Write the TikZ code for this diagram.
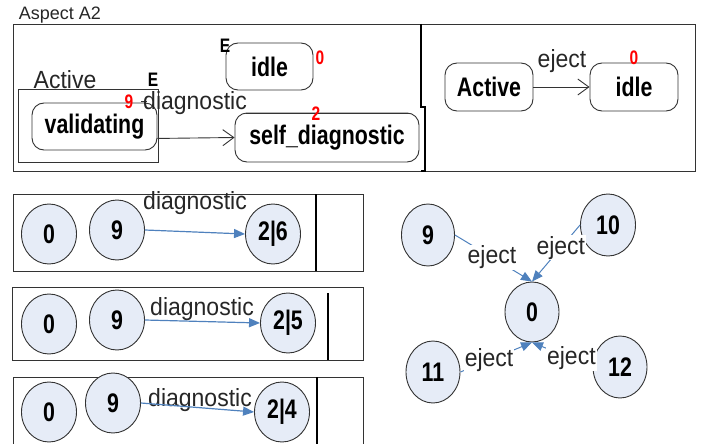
\documentclass[tikz,border=0pt]{standalone}
\usepackage{fontspec}
\usepackage{graphicx}
\setmainfont{Liberation Sans}
\usetikzlibrary{arrows.meta,shapes.geometric}
\definecolor{cfill}{HTML}{E6ECF7}
\definecolor{cblue}{HTML}{4F81BD}
\definecolor{cline}{HTML}{333333}
\newcommand{\vbold}[1]{\scalebox{0.97}[1.22]{#1}}
\newcommand{\vreg}[1]{\scalebox{1}[1.08]{#1}}
\begin{document}
\begin{tikzpicture}[x=1pt,y=-1pt,
  statebox/.style={draw=cline, line width=0.9pt, rounded corners=12pt, inner sep=0pt, font=\fontsize{22}{24}\selectfont\bfseries},
  circ/.style={ellipse, draw=cline, line width=0.9pt, fill=cfill, minimum width=55pt, minimum height=60pt, inner sep=0pt, font=\fontsize{22}{24}\selectfont\bfseries},
  lbl/.style={font=\fontsize{23}{25}\selectfont, inner sep=1pt, text=black!85},
  rednum/.style={font=\fontsize{16}{18}\selectfont\bfseries, text=red, inner sep=0pt},
  emark/.style={font=\fontsize{16}{18}\selectfont\bfseries, inner sep=0pt},
  frame/.style={draw=cline, line width=0.9pt},
  trans/.style={draw=cline, line width=0.9pt, -{Straight Barb[length=11pt,width=16pt]}},
  barrow/.style={draw=cblue, line width=1.2pt, -{Triangle[length=11pt,width=9pt]}},
  elbl/.style={font=\fontsize{23}{25}\selectfont, inner sep=1pt, fill=white, text=black!85}
]
\useasboundingbox (0,0) rectangle (702,444);

% ---------- top frame ----------
\node[font=\fontsize{18}{20}\selectfont, text=black!85, inner sep=0pt] (title) at (60,15) {Aspect A2};
\draw[frame] (13,24) rectangle (695,171);
\draw[draw=black, line width=1.6pt] (421,24) -- (421,107) -- (425,107) -- (425,171) -- (421,171);

% left panel
\draw[frame] (18,89) rectangle (158,162);
\node[lbl, inner sep=0pt] (activelbl) at (65,80) {\vreg{Active}};
\node[emark] (e2) at (153,80) {\vbold{E}};

\node[statebox, minimum width=87pt, minimum height=47pt] (idleA) at (269.5,66.5) {\vbold{idle}};
\node[emark] (e1) at (225,46) {\vbold{E}};
\node[rednum] (r0a) at (320,58) {\vbold{0}};

\node[statebox, fill=white, minimum width=125pt, minimum height=47pt] (val) at (94.5,126.5) {\vbold{validating}};
\node[statebox, minimum width=184pt, minimum height=49pt] (self) at (327,137.5) {\vbold{self\_diagnostic}};
\draw[frame] (141,101) -- (147,101);
\draw[frame] (246,113) -- (410,113);
\node[lbl] (diagA) at (195,103) {\vreg{diagnostic}};
\node[rednum] (r9) at (129,102) {\vbold{9}};
\node[rednum] (r2) at (316,114) {\vbold{2}};
\draw[trans] ([yshift=12pt]val.south east) -- (self.west);

% right panel
\node[statebox, minimum width=88pt, minimum height=48pt] (actB) at (489,87) {\vbold{Active}};
\node[statebox, minimum width=88pt, minimum height=48pt] (idleB) at (634,87) {\vbold{idle}};
\node[rednum] (r0b) at (634,58) {\vbold{0}};
\draw[trans] (actB) -- (idleB);
\node[lbl] (ejectB) at (562,61) {\vreg{eject}};

% ---------- bottom left boxes ----------
\draw[frame] (13,194) rectangle (363,271);
\draw[draw=black, line width=1.2pt] (316,194) -- (316,271);
\node[circ] (a0) at (49,234) {\vbold{0}};
\node[circ] (a9) at (117,230) {\vbold{9}};
\node[circ] (a2) at (273,234) {\vbold{2|6}};
\node[lbl] (adiag) at (195,203) {\vreg{diagnostic}};
\draw[barrow] (a9.east) -- (a2.west);

\draw[frame] (12,287) rectangle (363,360);
\draw[draw=black, line width=1.2pt] (328,293) -- (328,360);
\node[circ] (b0) at (49,324) {\vbold{0}};
\node[circ] (b9) at (117,320) {\vbold{9}};
\node[circ] (b2) at (288,323) {\vbold{2|5}};
\node[lbl] (bdiag) at (202,309) {\vreg{diagnostic}};
\draw[barrow] (b9.east) -- (b2.west);

\draw[frame] (13,446) -- (13,377) -- (363,377) -- (363,446);
\draw[draw=black, line width=1.2pt] (317,377) -- (317,446);
\node[circ] (c0) at (49,412) {\vbold{0}};
\node[circ] (c9) at (113,403) {\vbold{9}};
\node[circ] (c2) at (282,412) {\vbold{2|4}};
\node[lbl] (cdiag) at (200,400) {\vreg{diagnostic}};
\draw[barrow] (c9.east) -- (c2.west);

% ---------- right graph ----------
\node[circ, minimum width=53pt, minimum height=62pt] (g9) at (428,235) {\vbold{9}};
\node[circ, minimum width=55pt, minimum height=62pt] (g10) at (608,225) {\vbold{10}};
\node[circ, minimum width=54pt, minimum height=60pt] (g0) at (532,312) {\vbold{0}};
\node[circ, minimum width=54pt, minimum height=62pt] (g11) at (433,372) {\vbold{11}};
\node[circ, minimum width=54pt, minimum height=62pt] (g12) at (620,367) {\vbold{12}};

\draw[barrow, line width=1pt] (g9.east) -- node[elbl, pos=0.48] {\vreg{eject}} (g0.north);
\draw[barrow, line width=1pt] (g10.west) -- node[elbl, pos=0.4] {\vreg{eject}} (g0.north);
\draw[barrow, line width=1pt] (g11.east) -- node[elbl, pos=0.4] {\vreg{eject}} (g0.south);
\draw[barrow, line width=1pt] (g12.west) -- node[elbl, pos=0.35] {\vreg{eject}} (g0.south);
\end{tikzpicture}
\end{document}
